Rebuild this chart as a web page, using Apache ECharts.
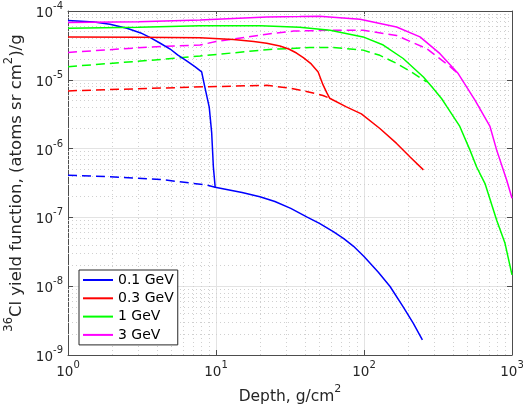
<!DOCTYPE html>
<html>
<head>
<meta charset="utf-8">
<script src="https://cdn.jsdelivr.net/npm/echarts@6/dist/echarts.min.js"></script>
<style>
html,body{margin:0;padding:0;background:#fff;}
#chart{width:523px;height:414px;}
</style>
</head>
<body>
<div id="chart"></div>
<script>
// ---- Data ----
var legendNames = ['0.1 GeV', '0.3 GeV', '1 GeV', '3 GeV'];

// 0.1 GeV
var depth01Solid = [1, 1.5, 1.92, 2.5, 3.1, 3.6, 4.2, 4.9, 5.5, 6.3, 7.2, 8.0, 8.4, 9.0, 9.35, 9.6, 9.87, 11.8, 15, 19.8, 25, 32, 41, 50, 62, 73, 85, 100, 125, 150, 184, 215, 248];
var yield01Solid = [7.3e-5, 6.9e-5, 6.4e-5, 5.6e-5, 4.8e-5, 4.1e-5, 3.4e-5, 2.8e-5, 2.3e-5, 1.9e-5, 1.55e-5, 1.3e-5, 7.9e-6, 4.0e-6, 1.7e-6, 5.4e-7, 2.75e-7, 2.55e-7, 2.3e-7, 2.0e-7, 1.7e-7, 1.35e-7, 1.02e-7, 8.2e-8, 6.2e-8, 4.9e-8, 3.8e-8, 2.7e-8, 1.6e-8, 9.9e-9, 5.0e-9, 2.9e-9, 1.66e-9];
var depth01Dash = [1, 1.92, 4.2, 8.6, 9.87];
var yield01Dash = [4.1e-7, 3.9e-7, 3.57e-7, 2.96e-7, 2.75e-7];

// 0.3 GeV
var depth03Solid = [1, 3, 7.8, 13.1, 18, 22, 27, 31, 35, 38.9, 44, 49, 52.8, 56, 58.6, 76, 96, 128, 166, 204, 252];
var yield03Solid = [4.2e-5, 4.15e-5, 4.1e-5, 3.85e-5, 3.6e-5, 3.4e-5, 3.1e-5, 2.8e-5, 2.45e-5, 2.1e-5, 1.7e-5, 1.3e-5, 8.5e-6, 6.5e-6, 5.4e-6, 4.05e-6, 3.2e-6, 1.96e-6, 1.19e-6, 7.6e-7, 4.9e-7];
var depth03Dash = [1, 3.6, 8.2, 22, 31.5, 43, 52.8, 58.6];
var yield03Dash = [6.9e-6, 7.5e-6, 7.9e-6, 8.3e-6, 7.6e-6, 6.6e-6, 5.9e-6, 5.4e-6];

// 1 GeV
var depth1Solid = [1, 3, 7.8, 20, 36.7, 59, 98.6, 135, 184, 252, 292, 335, 362, 444, 520, 577, 657, 788, 897, 1000];
var yield1Solid = [5.6e-5, 5.8e-5, 6.1e-5, 6.1e-5, 5.8e-5, 5.25e-5, 4.2e-5, 3.2e-5, 2.04e-5, 1.1e-5, 7.6e-6, 5.3e-6, 4.1e-6, 2.1e-6, 9.5e-7, 5.4e-7, 3.1e-7, 9.1e-8, 4.2e-8, 1.46e-8];
var depth1Dash = [1, 3.6, 7.8, 23, 43, 62, 98.6, 128, 166, 209, 265];
var yield1Dash = [1.55e-5, 1.92e-5, 2.22e-5, 2.76e-5, 2.95e-5, 2.95e-5, 2.7e-5, 2.27e-5, 1.73e-5, 1.3e-5, 9.3e-6];

// 3 GeV
var depth3Solid = [1, 3, 7.8, 22, 36.7, 50, 94, 166, 239, 326, 433, 562, 710, 788, 920, 1000];
var yield3Solid = [6.8e-5, 7.0e-5, 7.4e-5, 8.2e-5, 8.3e-5, 8.4e-5, 7.6e-5, 5.85e-5, 4.2e-5, 2.4e-5, 1.23e-5, 5.06e-6, 2.1e-6, 9.5e-7, 3.5e-7, 1.9e-7];
var depth3Dash = [1, 3.6, 7.8, 10, 22, 33.4, 59, 98.6, 166, 265, 371, 433];
var yield3Dash = [2.5e-5, 3.0e-5, 3.2e-5, 3.6e-5, 4.6e-5, 5.1e-5, 5.25e-5, 5.25e-5, 4.4e-5, 2.84e-5, 1.63e-5, 1.23e-5];

// axis ranges & minor grid positions
var xMin = 1, xMax = 1000, yMin = 1e-9, yMax = 1e-4;
var minorMultipliers = [2, 3, 4, 5, 6, 7, 8, 9];
var xDecades = [1, 10, 100];
var yDecades = [1e-9, 1e-8, 1e-7, 1e-6, 1e-5];

// ---- Build ----
function pairs(xs, ys) { return xs.map(function (x, i) { return [x, ys[i]]; }); }
var minorLines = [];
xDecades.forEach(function (d) { minorMultipliers.forEach(function (m) { minorLines.push({ coords: [[d * m, yMin], [d * m, yMax]] }); }); });
yDecades.forEach(function (d) { minorMultipliers.forEach(function (m) { minorLines.push({ coords: [[xMin, d * m], [xMax, d * m]] }); }); });

var colors = ['#0000ff', '#ff0000', '#00ff00', '#ff00ff'];
var solids = [pairs(depth01Solid, yield01Solid), pairs(depth03Solid, yield03Solid), pairs(depth1Solid, yield1Solid), pairs(depth3Solid, yield3Solid)];
var dashes = [pairs(depth01Dash, yield01Dash), pairs(depth03Dash, yield03Dash), pairs(depth1Dash, yield1Dash), pairs(depth3Dash, yield3Dash)];

var textColor = '#262626';
var axisColor = '#4d4d4d';
function supFmt(v) {
  var e = Math.round(Math.log(v) / Math.LN10);
  return '{b|10}{s|' + e + '}';
}
var labelRich = {
  b: { fontSize: 13.5, fontFamily: 'DejaVu Sans', color: textColor, verticalAlign: 'bottom', lineHeight: 19 },
  s: { fontSize: 10, fontFamily: 'DejaVu Sans', color: textColor, verticalAlign: 'top', lineHeight: 19 }
};
var xNameRich = {
  n: { fontSize: 15.5, fontFamily: 'DejaVu Sans', color: textColor, verticalAlign: 'bottom', lineHeight: 21 },
  s: { fontSize: 11, fontFamily: 'DejaVu Sans', color: textColor, verticalAlign: 'top', lineHeight: 21 }
};
var yNameRich = {
  n: { fontSize: 16.5, fontFamily: 'DejaVu Sans', color: textColor, verticalAlign: 'bottom', lineHeight: 22 },
  s: { fontSize: 11.5, fontFamily: 'DejaVu Sans', color: textColor, verticalAlign: 'top', lineHeight: 22 }
};

var series = [];
series.push({
  name: '_minorgrid', type: 'lines', coordinateSystem: 'cartesian2d', xAxisIndex: 0, yAxisIndex: 0,
  silent: true, animation: false, z: 1, polyline: false,
  lineStyle: { color: '#d0d0d0', type: [1, 3], width: 1, opacity: 1 },
  data: minorLines
});
for (var i = 0; i < 4; i++) {
  series.push({
    name: legendNames[i] + ' dashed', type: 'line', data: dashes[i], showSymbol: false, symbol: 'none',
    lineStyle: { color: colors[i], width: 1.5, type: [9, 5] }, itemStyle: { color: colors[i] },
    animation: false, silent: true, z: 3
  });
}
for (var j = 0; j < 4; j++) {
  series.push({
    name: legendNames[j], type: 'line', data: solids[j], showSymbol: false, symbol: 'none',
    lineStyle: { color: colors[j], width: 1.5 }, itemStyle: { color: colors[j] },
    animation: false, silent: true, z: 4
  });
}

var chart = echarts.init(document.getElementById('chart'), null, { renderer: 'canvas' });
chart.setOption({
  backgroundColor: '#ffffff',
  animation: false,
  textStyle: { fontFamily: 'DejaVu Sans' },
  grid: { left: 68, right: 11, top: 11, bottom: 59, containLabel: false, outerBoundsMode: 'none' },
  legend: {
    data: legendNames, orient: 'vertical', left: 79, top: 270,
    icon: 'rect', itemWidth: 30, itemHeight: 2,
    backgroundColor: '#ffffff', borderColor: '#262626', borderWidth: 1, borderRadius: 0,
    padding: [3, 4, 3, 4], itemGap: 4.3,
    textStyle: { fontSize: 14, color: '#000', fontFamily: 'DejaVu Sans', lineHeight: 14 }
  },
  xAxis: [{
    type: 'log', logBase: 10, min: xMin, max: xMax, position: 'bottom',
    name: '{n|Depth, g/cm}{s|2}', nameLocation: 'middle', nameGap: 29,
    nameTextStyle: { rich: xNameRich },
    axisLine: { show: true, lineStyle: { color: axisColor, width: 1 } },
    axisTick: { show: true, inside: true, length: 5, lineStyle: { color: axisColor } },
    axisLabel: { formatter: supFmt, rich: labelRich, margin: 5 },
    splitLine: { show: true, lineStyle: { color: '#e3e3e3', width: 1 } }
  }, {
    type: 'log', logBase: 10, min: xMin, max: xMax, position: 'top',
    axisLine: { show: true, lineStyle: { color: axisColor, width: 1 } },
    axisTick: { show: true, inside: true, length: 5, lineStyle: { color: axisColor } },
    axisLabel: { show: false }, splitLine: { show: false }
  }],
  yAxis: [{
    type: 'log', logBase: 10, min: yMin, max: yMax, position: 'left',
    name: '{s|36}{n|Cl yield function, (atoms sr cm}{s|2}{n|)/g}', nameLocation: 'middle', nameGap: 36,
    nameTextStyle: { rich: yNameRich },
    axisLine: { show: true, lineStyle: { color: axisColor, width: 1 } },
    axisTick: { show: true, inside: true, length: 5, lineStyle: { color: axisColor } },
    axisLabel: { formatter: supFmt, rich: labelRich, margin: 5 },
    splitLine: { show: true, lineStyle: { color: '#e3e3e3', width: 1 } }
  }, {
    type: 'log', logBase: 10, min: yMin, max: yMax, position: 'right',
    axisLine: { show: true, lineStyle: { color: axisColor, width: 1 } },
    axisTick: { show: true, inside: true, length: 5, lineStyle: { color: axisColor } },
    axisLabel: { show: false }, splitLine: { show: false }
  }],
  series: series
});
</script>
</body>
</html>
